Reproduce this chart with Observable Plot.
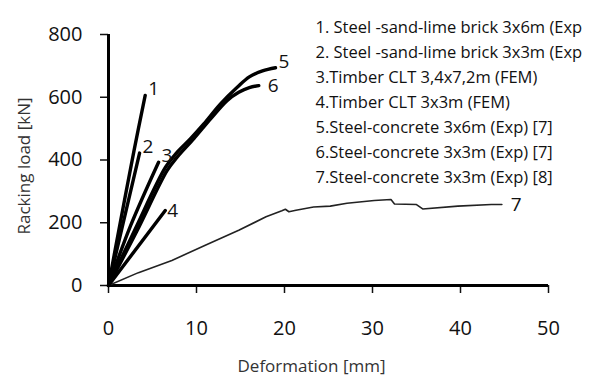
<!DOCTYPE html>
<html>
<head>
<meta charset="utf-8">
<script src="https://cdn.jsdelivr.net/npm/d3@7"></script>
<script src="https://cdn.jsdelivr.net/npm/@observablehq/plot@0.6"></script>
<style>
  html, body { margin: 0; padding: 0; background: #fff; }
  #chart { width: 614px; height: 381px; }
</style>
</head>
<body>
<div id="chart"></div>
<script>
// Series values (deformation mm, racking load kN)
const x1 = [0, 1.0, 2.9, 4.17];
const y1 = [0, 150, 430, 606];
const x2 = [0, 3.53];
const y2 = [0, 422];
const x3 = [0, 2.5, 5.69];
const y3 = [0, 190, 393];
const x4 = [0, 6.45];
const y4 = [0, 239];
const x5 = [0, 3.0, 6.48, 7.81, 9.32, 10.83, 12.73, 14.63, 16.0, 17.5, 18.98];
const y5 = [0, 178, 377, 425, 468, 515, 579, 632, 665, 684, 694];
const x6 = [0, 3.2, 6.67, 7.8, 9.7, 11.6, 13.5, 14.8, 16.0, 17.08];
const y6 = [0, 172, 367, 409, 468, 531, 590, 616, 631, 637];
const x7 = [0, 3.4, 7.2, 11.0, 14.8, 17.9, 19.7, 20.1, 20.5, 21.3, 23.3, 25.2, 27.1, 30.2, 32.1, 32.5, 35.0, 35.7, 39.7, 43.5, 44.7];
const y7 = [0, 41, 80, 128, 176, 219, 238, 243, 235, 240, 250, 253, 262, 271, 274, 260, 258, 244, 253, 258, 258];

const seriesNames = ["1", "2", "3", "4", "5", "6", "7"];
const xTicks = [0, 10, 20, 30, 40, 50];
const yTicks = [0, 200, 400, 600, 800];
const xLabel = "Deformation [mm]";
const yLabel = "Racking load [kN]";
const legendLines = [
  "1. Steel -sand-lime brick 3x6m (Exp",
  "2. Steel -sand-lime brick 3x3m (Exp",
  "3.Timber CLT 3,4x7,2m (FEM)",
  "4.Timber CLT 3x3m (FEM)",
  "5.Steel-concrete 3x6m (Exp) [7]",
  "6.Steel-concrete 3x3m (Exp) [7]",
  "7.Steel-concrete 3x3m (Exp) [8]"
];

const xs = [x1, x2, x3, x4, x5, x6, x7];
const ys = [y1, y2, y3, y4, y5, y6, y7];
const rows = [];
seriesNames.forEach((s, i) => xs[i].forEach((x, j) => rows.push({series: s, x, y: ys[i][j]})));
const thick = rows.filter(d => d.series !== "7");
const thin = rows.filter(d => d.series === "7");
const ends = seriesNames.map(s => rows.filter(d => d.series === s).at(-1));
const endsOf = (names) => ends.filter(d => names.includes(d.series));

const plot = Plot.plot({
  width: 614,
  height: 381,
  marginLeft: 108,
  marginRight: 66,
  marginTop: 34,
  marginBottom: 96,
  style: {fontFamily: "'Open Sans', sans-serif", fontSize: "20px", color: "#111", background: "#fff"},
  x: {domain: [0, 50]},
  y: {domain: [0, 800]},
  marks: [
    Plot.axisY({ticks: yTicks, tickSize: 8, tickPadding: 18, label: null, fontSize: 20, strokeWidth: 1.5}),
    Plot.axisX({ticks: xTicks, tickSize: 8, tickPadding: 27, label: null, fontSize: 20, strokeWidth: 1.5}),
    Plot.ruleX([0], {stroke: "#000", strokeWidth: 3}),
    Plot.ruleY([0], {stroke: "#000", strokeWidth: 3}),
    Plot.line(thin, {x: "x", y: "y", z: "series", stroke: "#222", strokeWidth: 1.6}),
    Plot.line(thick, {x: "x", y: "y", z: "series", stroke: "#000", strokeWidth: 3.4, curve: "catmull-rom"}),
    Plot.text(endsOf(["1", "2", "3", "5"]), {x: "x", y: "y", text: "series", textAnchor: "start", dx: 3, dy: -6, fontSize: 19, fill: "#111"}),
    Plot.text(endsOf(["4"]), {x: "x", y: "y", text: "series", textAnchor: "start", dx: 2, dy: 0, fontSize: 19, fill: "#111"}),
    Plot.text(endsOf(["6", "7"]), {x: "x", y: "y", text: "series", textAnchor: "start", dx: 9, dy: 0, fontSize: 19, fill: "#111"}),
    Plot.text([legendLines.join("\n")], {frameAnchor: "top-left", dx: 207, dy: -19, lineAnchor: "top", textAnchor: "start", lineHeight: 25 / 16.5, fontSize: 16.5, fill: "#111"}),
    Plot.text([yLabel], {frameAnchor: "left", dx: -84, dy: 6, rotate: -90, textAnchor: "middle", fontSize: 17, fill: "#333"}),
    Plot.text([xLabel], {frameAnchor: "bottom", dx: -17, dy: 86, fontSize: 17, fill: "#333"})
  ]
});
document.getElementById("chart").append(plot);
</script>
</body>
</html>
